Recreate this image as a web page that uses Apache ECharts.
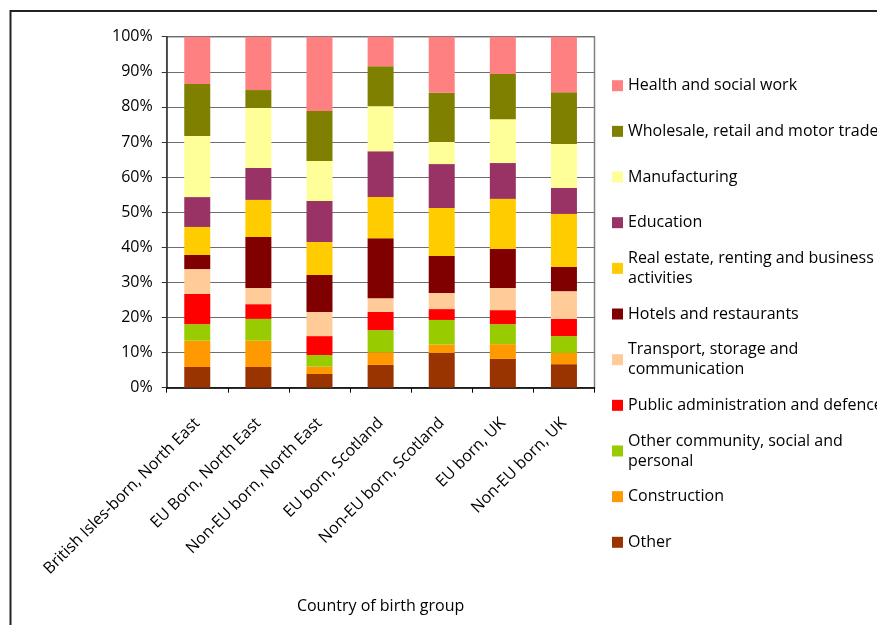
<!DOCTYPE html>
<html>
<head>
<meta charset="utf-8">
<script src="https://cdn.jsdelivr.net/npm/echarts@6/dist/echarts.min.js"></script>
<style>
  html, body { margin: 0; padding: 0; background: #fff; }
  #chart { width: 877px; height: 625px; }
</style>
</head>
<body>
<div id="chart"></div>
<script>
// country of birth groups
var categories = ['British Isles-born, North East', 'EU Born, North East', 'Non-EU born, North East',
  'EU born, Scotland', 'Non-EU born, Scotland', 'EU born, UK', 'Non-EU born, UK'];

// share of employment by industry (%), bottom of the stack first
var other          = [5.9, 5.9, 3.9, 6.5, 9.9, 8.2, 6.7];
var construction   = [7.5, 7.5, 2.1, 3.6, 2.4, 4.2, 3.2];
var otherCommunity = [4.7, 6.2, 3.3, 6.3, 7.0, 5.7, 4.8];
var publicAdmin    = [8.6, 4.2, 5.4, 5.2, 3.1, 4.0, 4.9];
var transport      = [7.1, 4.6, 6.9, 3.9, 4.6, 6.3, 7.9];
var hotels         = [4.0, 14.5, 10.5, 17.1, 10.5, 11.1, 6.9];
var realEstate     = [8.0, 10.6, 9.4, 11.7, 13.7, 14.3, 15.1];
var education      = [8.5, 9.1, 11.7, 13.1, 12.5, 10.2, 7.4];
var manufacturing  = [17.4, 17.1, 11.4, 12.8, 6.3, 12.5, 12.5];
var wholesale      = [14.8, 5.1, 14.2, 11.4, 14.0, 12.9, 14.8];
var health         = [13.5, 15.2, 21.2, 8.4, 16.0, 10.6, 15.8];

var seriesNames = ['Other', 'Construction', 'Other community, social and\npersonal',
  'Public administration and defence', 'Transport, storage and\ncommunication',
  'Hotels and restaurants', 'Real estate, renting and business\nactivities', 'Education',
  'Manufacturing', 'Wholesale, retail and motor trade', 'Health and social work'];
var seriesData = [other, construction, otherCommunity, publicAdmin, transport, hotels,
  realEstate, education, manufacturing, wholesale, health];
var colors = ['#993300', '#FF9900', '#99CC00', '#FF0000', '#FFCC99', '#800000',
  '#FFCC00', '#993366', '#FFFF99', '#808000', '#FF8080'];

var font = 'Open Sans';
var fs = 16;
var myChart = echarts.init(document.getElementById('chart'));

var series = seriesData.map(function (d, i) {
  return {
    name: seriesNames[i],
    type: 'bar',
    stack: 'total',
    barWidth: 26,
    data: d
  };
});

// one legend per item, top item = last series
var legends = [];
for (var k = 0; k < seriesNames.length; k++) {
  var name = seriesNames[seriesNames.length - 1 - k];
  var center = 85.7 + k * 45.66;
  var twoLines = name.indexOf('\n') >= 0;
  legends.push({
    data: [name],
    orient: 'vertical',
    left: 612,
    top: twoLines ? center - 30 : center - 10,
    padding: 0,
    itemWidth: 11,
    itemHeight: 11,
    icon: 'rect',
    selectedMode: false,
    textStyle: {
      fontFamily: font,
      fontSize: fs,
      color: '#000',
      lineHeight: 20,
      padding: twoLines ? [20, 0, 0, 0] : 0
    }
  });
}

myChart.setOption({
  animation: false,
  color: colors,
  grid: {
    left: 166.7,
    right: 282.5,
    top: 36.7,
    bottom: 237.3,
    show: true,
    borderColor: '#808080',
    borderWidth: 1.5
  },
  legend: legends,
  graphic: [{
    type: 'polyline',
    shape: { points: [[10.5, 625], [10.5, 11], [877, 11]] },
    style: { stroke: '#222', lineWidth: 2, fill: null }
  }],
  xAxis: {
    type: 'category',
    data: categories,
    name: 'Country of birth group',
    nameLocation: 'middle',
    nameGap: 211,
    nameTextStyle: { fontFamily: font, fontSize: fs, color: '#000' },
    axisLine: { lineStyle: { color: '#000', width: 1.5 } },
    axisTick: { show: true, length: 5, interval: 0, lineStyle: { color: '#000' } },
    axisLabel: {
      interval: 0,
      rotate: 45,
      margin: 33,
      fontFamily: font,
      fontSize: fs,
      color: '#000'
    }
  },
  yAxis: {
    type: 'value',
    min: 0,
    max: 100,
    interval: 10,
    axisLine: { show: true, lineStyle: { color: '#333', width: 1.5 } },
    axisTick: { show: true, length: 5, lineStyle: { color: '#333' } },
    splitLine: { lineStyle: { color: '#6e6e6e', width: 1 } },
    axisLabel: {
      formatter: '{value}%',
      margin: 14,
      fontFamily: font,
      fontSize: fs,
      color: '#000'
    }
  },
  series: series
});
</script>
</body>
</html>
